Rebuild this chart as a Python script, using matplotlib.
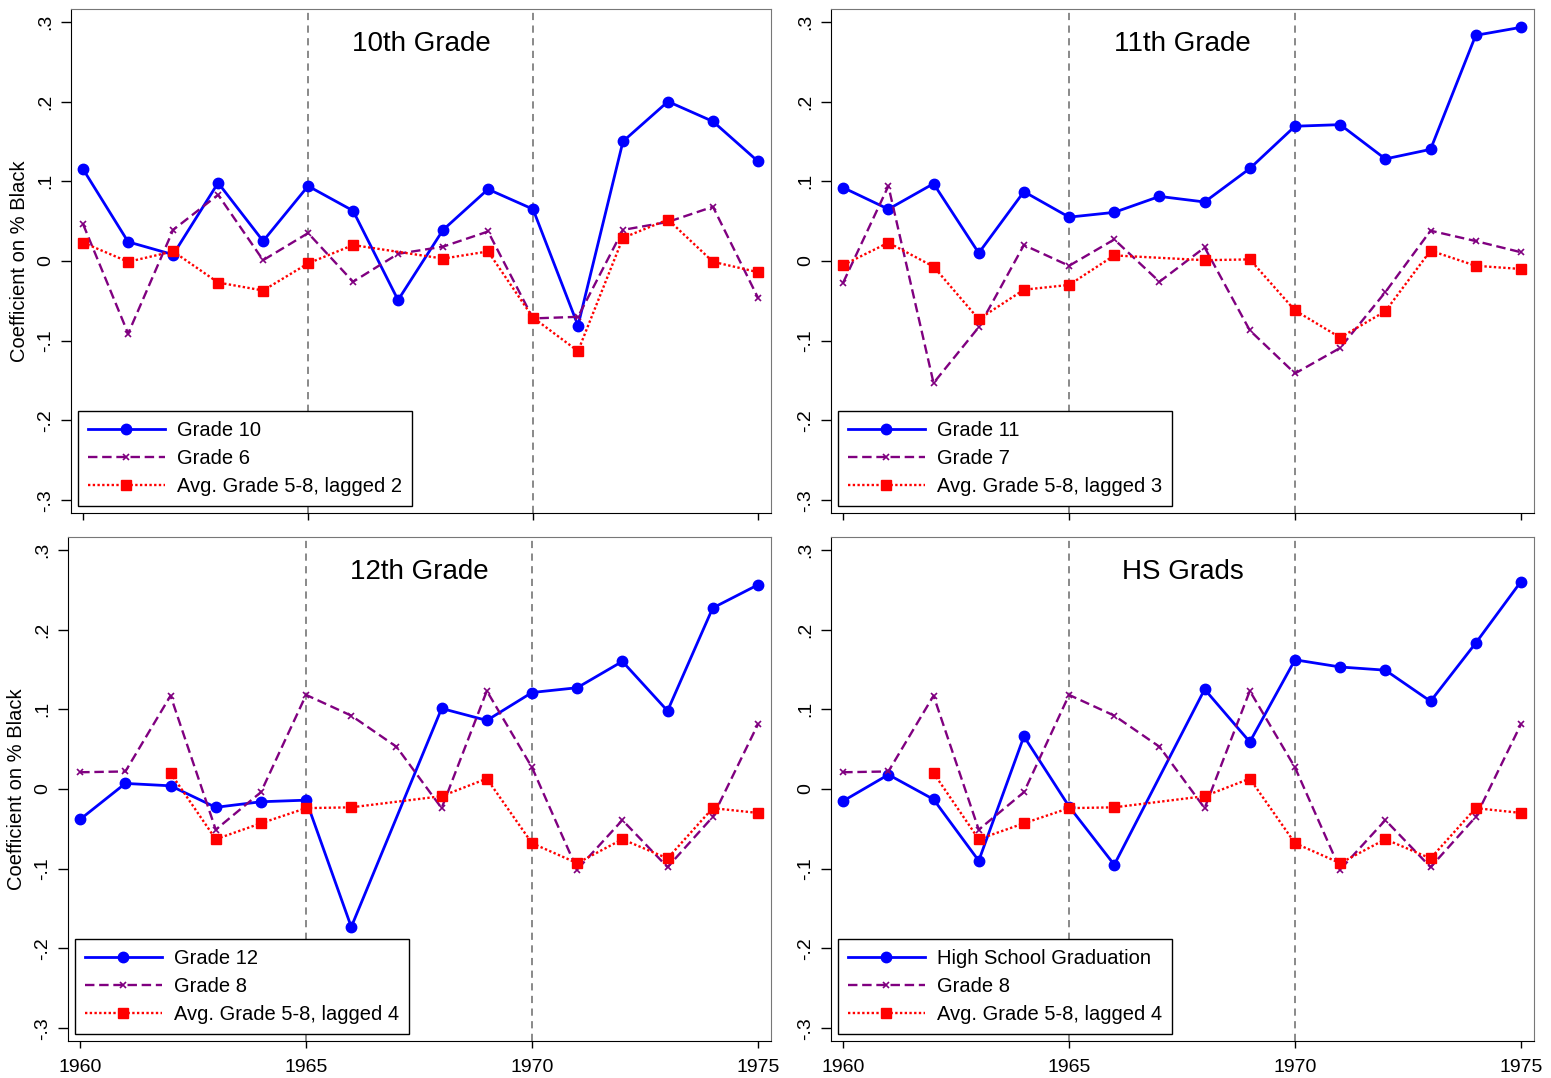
import matplotlib.pyplot as plt
import numpy as np

plt.rcParams['font.family'] = ['Liberation Sans', 'DejaVu Sans']

years = np.arange(1960, 1976)
nan = np.nan

# 10th grade panel
g10 = [0.115, 0.024, 0.008, 0.098, 0.025, 0.094, 0.063, -0.049, 0.039, 0.090, 0.065, -0.081, 0.150, 0.200, 0.175, 0.125]
g6 = [0.046, -0.091, 0.039, 0.083, 0.001, 0.035, -0.026, 0.009, 0.018, 0.037, -0.072, -0.070, 0.039, 0.049, 0.068, -0.046]
avg_lag2 = [0.023, -0.001, 0.012, -0.027, -0.037, -0.003, 0.020, nan, 0.003, 0.012, -0.071, -0.113, 0.029, 0.052, -0.001, -0.014]

# 11th grade panel
g11 = [0.092, 0.065, 0.097, 0.010, 0.087, 0.055, 0.061, 0.081, 0.074, 0.116, 0.169, 0.171, 0.128, 0.140, 0.283, 0.293]
g7 = [-0.027, 0.094, -0.153, -0.083, 0.020, -0.006, 0.027, -0.026, 0.017, -0.087, -0.141, -0.109, -0.039, 0.038, 0.025, 0.011]
avg_lag3 = [-0.005, 0.023, -0.007, -0.073, -0.036, -0.030, 0.007, nan, 0.001, 0.002, -0.062, -0.096, -0.063, 0.013, -0.006, -0.010]

# 12th grade and HS grads panels
g12 = [-0.038, 0.007, 0.004, -0.023, -0.016, -0.014, -0.173, nan, 0.101, 0.086, 0.121, 0.127, 0.160, 0.098, 0.227, 0.256]
hs_grad = [-0.015, 0.018, -0.013, -0.090, 0.066, -0.022, -0.095, nan, 0.125, 0.059, 0.162, 0.153, 0.149, 0.110, 0.183, 0.260]
g8 = [0.021, 0.022, 0.117, -0.051, -0.004, 0.118, 0.092, 0.053, -0.024, 0.123, 0.027, -0.101, -0.039, -0.098, -0.035, 0.081]
avg_lag4 = [nan, nan, 0.020, -0.063, -0.043, -0.024, -0.023, nan, -0.009, 0.013, -0.068, -0.093, -0.063, -0.087, -0.024, -0.030]

panels = [
    ('10th Grade', g10, 'Grade 10', g6, 'Grade 6', avg_lag2, 'Avg. Grade 5-8, lagged 2'),
    ('11th Grade', g11, 'Grade 11', g7, 'Grade 7', avg_lag3, 'Avg. Grade 5-8, lagged 3'),
    ('12th Grade', g12, 'Grade 12', g8, 'Grade 8', avg_lag4, 'Avg. Grade 5-8, lagged 4'),
    ('HS Grads', hs_grad, 'High School Graduation', g8, 'Grade 8', avg_lag4, 'Avg. Grade 5-8, lagged 4'),
]

# axes boxes in pixels: left, top, right, bottom
boxes = [(71, 9, 771, 513), (831, 9, 1534, 513), (68, 537, 771, 1041), (831, 537, 1534, 1041)]
W, H = 1551, 1078

fig = plt.figure(figsize=(W / 100, H / 100), dpi=100)


def draw(ax, y, **kw):
    y = np.asarray(y, dtype=float)
    ok = ~np.isnan(y)
    return ax.plot(years[ok], y[ok], **kw)[0]


for i, (title, s1, l1, s2, l2, s3, l3) in enumerate(panels):
    l, t, r, b = boxes[i]
    ax = fig.add_axes([l / W, 1 - b / H, (r - l) / W, (b - t) / H])
    ax.axvline(1965, color='#808080', ls=(0, (4, 3)), lw=1.3, zorder=0)
    ax.axvline(1970, color='#808080', ls=(0, (4, 3)), lw=1.3, zorder=0)
    h1 = draw(ax, s1, color='#0000ff', lw=2.0, marker='o', ms=7.5, label=l1)
    h2 = draw(ax, s2, color='#800080', lw=1.7, ls=(0, (4, 2)), marker='x', ms=4, mew=1.2, label=l2)
    h3 = draw(ax, s3, color='#ff0000', lw=1.7, ls=(0, (1, 1)), marker='s', ms=7.5, label=l3)
    ax.set_xlim(1959.73, 1975.29)
    ax.set_ylim(-0.316, 0.316)
    ax.set_yticks([-0.3, -0.2, -0.1, 0, 0.1, 0.2, 0.3])
    ax.set_yticklabels(['-.3', '-.2', '-.1', '0', '.1', '.2', '.3'], rotation=90, va='center', fontsize=14)
    ax.set_xticks([1960, 1965, 1970, 1975])
    if i >= 2:
        ax.set_xticklabels(['1960', '1965', '1970', '1975'], fontsize=14)
    else:
        ax.set_xticklabels([])
    ax.tick_params(axis='y', length=7, width=1, pad=5)
    ax.tick_params(axis='x', length=5, width=1, pad=8)
    if i % 2 == 0:
        ax.set_ylabel('Coefficient on % Black', fontsize=14.5, labelpad=6)
    for side in ['top', 'right']:
        ax.spines[side].set_color('#777777')
    ax.text(0.5, 0.93, title, transform=ax.transAxes, ha='center', va='center', fontsize=20)
    leg = ax.legend(handles=[h1, h2, h3], loc='lower left', fontsize=14.5, handlelength=3.8,
                    numpoints=1, fancybox=False, framealpha=1, edgecolor='black',
                    borderaxespad=0.35, labelspacing=0.45, handletextpad=0.6, borderpad=0.5)
    leg.get_frame().set_linewidth(1.0)

fig.savefig('out.png', dpi=100)
